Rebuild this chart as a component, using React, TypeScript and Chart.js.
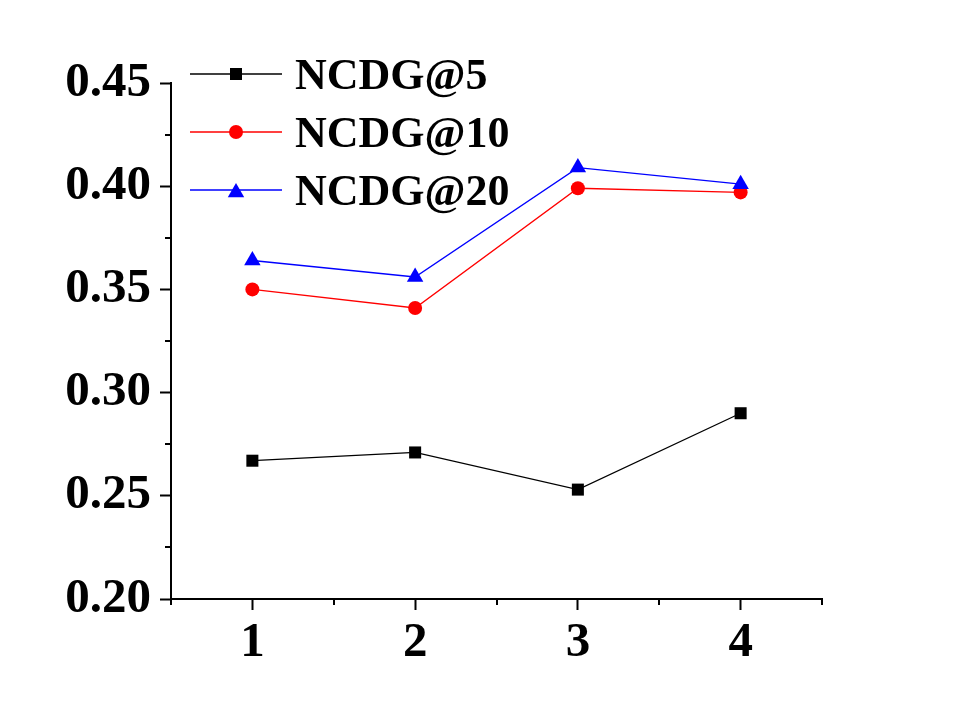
import React, { useEffect, useRef } from "react";
import { Chart, registerables } from "chart.js";

Chart.register(...registerables);

const xValues = [1, 2, 3, 4];
const ncdg5 = [0.267, 0.271, 0.253, 0.29];
const ncdg10 = [0.35, 0.341, 0.399, 0.397];
const ncdg20 = [0.364, 0.356, 0.409, 0.401];
const yTicks = [0.2, 0.25, 0.3, 0.35, 0.4, 0.45];
const yMinorTicks = [0.225, 0.275, 0.325, 0.375, 0.425];
const xMinorTicks = [0.5, 1.5, 2.5, 3.5, 4.5];
const seriesNames = ["NCDG@5", "NCDG@10", "NCDG@20"];
const seriesColors = ["#000000", "#ff0000", "#0000ff"];
const seriesMarkers = ["rect", "circle", "triangle"];
const markerRadii = [8.5, 7, 9.5];

const FONT = '"Liberation Serif", "Times New Roman", serif';

function drawMarker(ctx: CanvasRenderingContext2D, style: string, x: number, y: number, r: number) {
  ctx.beginPath();
  if (style === "rect") {
    const s = Math.SQRT1_2 * r;
    ctx.rect(x - s, y - s, 2 * s, 2 * s);
  } else if (style === "circle") {
    ctx.arc(x, y, r, 0, Math.PI * 2);
  } else {
    let a = 0;
    ctx.moveTo(x + Math.sin(a) * r, y - Math.cos(a) * r);
    a += (2 * Math.PI) / 3;
    ctx.lineTo(x + Math.sin(a) * r, y - Math.cos(a) * r);
    a += (2 * Math.PI) / 3;
    ctx.lineTo(x + Math.sin(a) * r, y - Math.cos(a) * r);
    ctx.closePath();
  }
  ctx.fill();
}

const customPlugin = {
  id: "customDecor",
  afterDraw(chart: any) {
    const ctx: CanvasRenderingContext2D = chart.ctx;
    const xs = chart.scales.x;
    const ys = chart.scales.y;
    const area = chart.chartArea;
    ctx.save();
    ctx.strokeStyle = "#000";
    ctx.lineWidth = 2;
    yMinorTicks.forEach((v) => {
      const py = Math.round(ys.getPixelForValue(v));
      ctx.beginPath();
      ctx.moveTo(area.left, py);
      ctx.lineTo(area.left - 6, py);
      ctx.stroke();
    });
    xMinorTicks.forEach((v) => {
      const px = Math.round(xs.getPixelForValue(v));
      ctx.beginPath();
      ctx.moveTo(px, area.bottom);
      ctx.lineTo(px, area.bottom + 6);
      ctx.stroke();
    });
    const rowY = [74, 132, 190];
    seriesNames.forEach((name, i) => {
      const y = rowY[i];
      ctx.strokeStyle = seriesColors[i];
      ctx.lineWidth = 1.3;
      ctx.beginPath();
      ctx.moveTo(190, y);
      ctx.lineTo(282, y);
      ctx.stroke();
      ctx.fillStyle = seriesColors[i];
      drawMarker(ctx, seriesMarkers[i], 236, seriesMarkers[i] === "triangle" ? y + 2.4 : y, markerRadii[i]);
      ctx.fillStyle = "#000";
      ctx.font = `bold 44px ${FONT}`;
      ctx.textAlign = "left";
      ctx.textBaseline = "alphabetic";
      ctx.fillText(name, 295, y + 14.5);
    });
    ctx.restore();
  },
};

export default function App() {
  const canvasRef = useRef<HTMLCanvasElement | null>(null);

  useEffect(() => {
    const canvas = canvasRef.current;
    if (!canvas) return;
    const series = [ncdg5, ncdg10, ncdg20];
    const chart = new Chart(canvas, {
      type: "line",
      data: {
        datasets: series.map((vals, i) => ({
          label: seriesNames[i],
          data: vals.map((v, j) => ({ x: xValues[j], y: v })),
          borderColor: seriesColors[i],
          backgroundColor: seriesColors[i],
          borderWidth: 1.3,
          pointStyle: seriesMarkers[i] as any,
          pointRadius: markerRadii[i],
          pointBorderWidth: 0,
          pointBackgroundColor: seriesColors[i],
          tension: 0,
          fill: false,
          order: 2 - i,
        })),
      },
      options: {
        responsive: false,
        animation: false,
        events: [],
        layout: { padding: { top: 83, right: 133, left: 0, bottom: 0 } },
        plugins: { legend: { display: false }, tooltip: { enabled: false } },
        scales: {
          x: {
            type: "linear",
            min: 0.5,
            max: 4.5,
            afterBuildTicks: (scale: any) => {
              scale.ticks = xValues.map((v) => ({ value: v }));
            },
            afterFit: (scale: any) => {
              scale.height = 118;
            },
            border: { display: true, color: "#000", width: 2 },
            grid: {
              drawOnChartArea: false,
              drawTicks: true,
              tickLength: 11,
              tickWidth: 2,
              tickColor: "#000",
            },
            ticks: {
              color: "#000",
              padding: 4,
              maxRotation: 0,
              font: { family: FONT, size: 49, weight: "bold" },
              callback: (v: any) => String(v),
            },
          },
          y: {
            type: "linear",
            min: 0.2,
            max: 0.45,
            afterBuildTicks: (scale: any) => {
              scale.ticks = yTicks.map((v) => ({ value: v }));
            },
            afterFit: (scale: any) => {
              scale.width = 171;
            },
            border: { display: true, color: "#000", width: 2 },
            grid: {
              drawOnChartArea: false,
              drawTicks: true,
              tickLength: 11,
              tickWidth: 2,
              tickColor: "#000",
            },
            ticks: {
              color: "#000",
              padding: 9,
              font: { family: FONT, size: 49, weight: "bold" },
              callback: (v: any) => Number(v).toFixed(2),
            },
          },
        },
      },
      plugins: [customPlugin],
    });
    return () => chart.destroy();
  }, []);

  return (
    <div style={{ position: "absolute", left: 0, top: 0, width: 955, height: 717, background: "#fff" }}>
      <canvas ref={canvasRef} width={955} height={717} style={{ width: 955, height: 717, display: "block" }} />
    </div>
  );
}
